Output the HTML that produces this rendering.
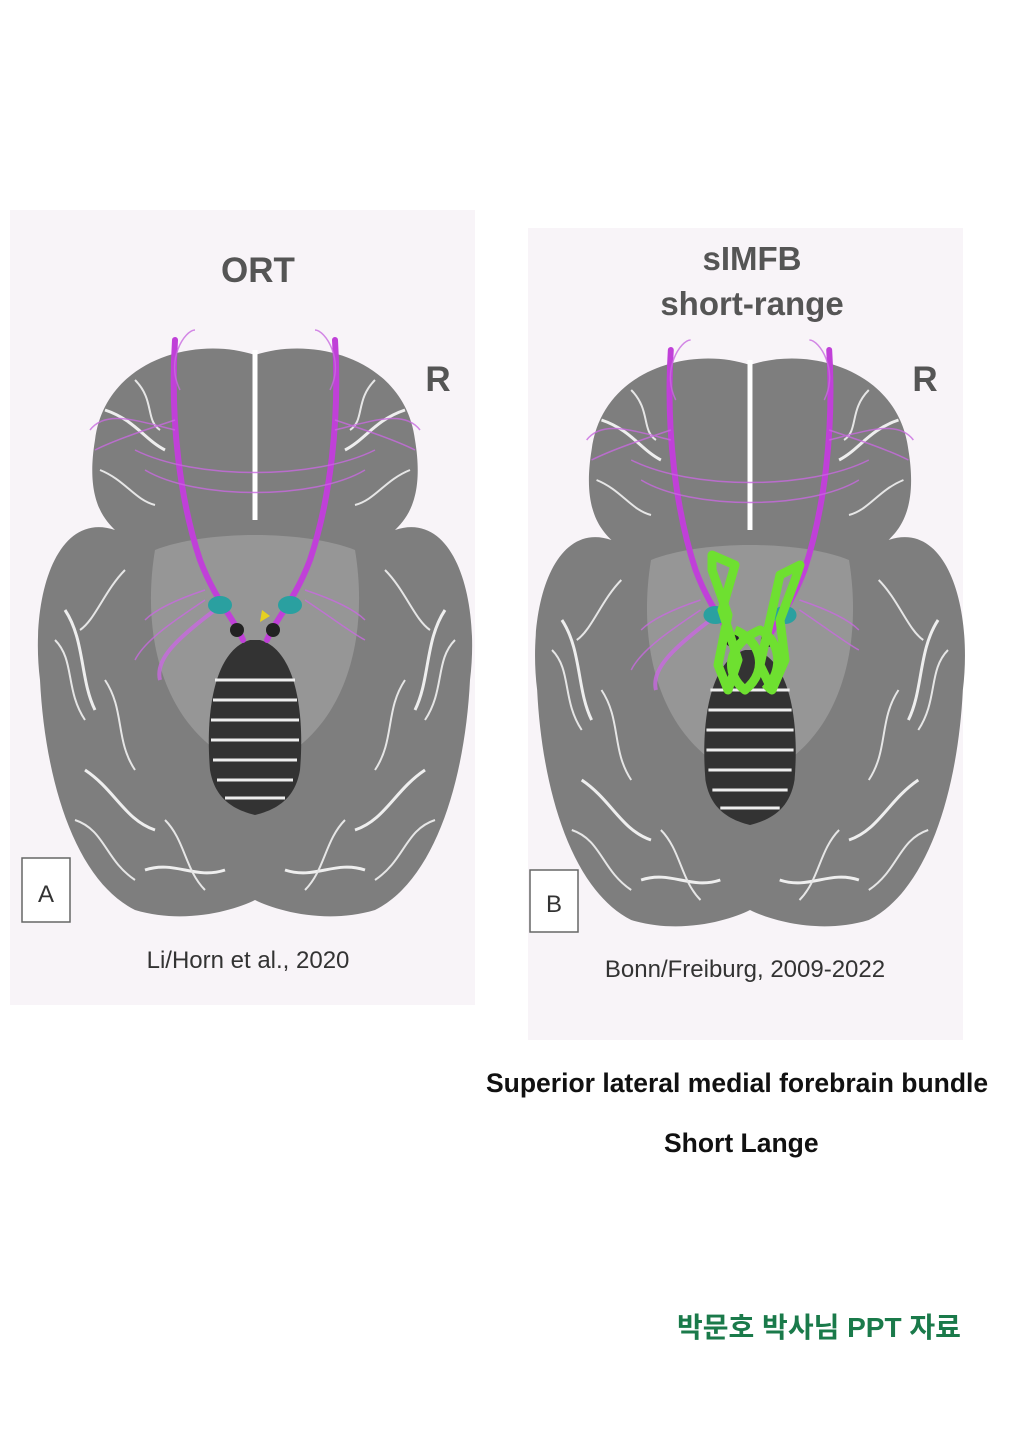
<!DOCTYPE html>
<html><head><meta charset="utf-8"><style>
body{margin:0;background:#fff;width:1019px;height:1440px;overflow:hidden;position:relative;font-family:"Liberation Sans","Noto Sans CJK KR",sans-serif}
svg{position:absolute;left:0;top:0}
.cap{position:absolute;font-weight:bold;font-size:26.5px;color:#111;white-space:nowrap;font-family:"Liberation Sans","Noto Sans CJK KR",sans-serif}
</style></head><body>
<svg width="1019" height="1440" viewBox="0 0 1019 1440">
<defs>
<g id="brain">
<path d="M0,-265 C60,-285 150,-260 160,-180 C170,-120 150,-100 140,-90 C200,-110 225,-20 215,60 C210,160 180,260 120,290 C70,305 20,290 0,280 C-20,290 -70,305 -120,290 C-180,260 -210,160 -215,60 C-225,-20 -200,-110 -140,-90 C-150,-100 -170,-120 -160,-180 C-150,-260 -60,-285 0,-265 Z" fill="#7e7e7e"/>
<path d="M-100,-70 C-50,-90 50,-90 100,-70 C115,20 90,120 0,150 C-90,120 -115,20 -100,-70Z" fill="#969696"/>
<path d="M0,-270 L0,-100" stroke="#fff" stroke-width="5"/>
<path d="M-5,20 C-40,30 -50,90 -45,150 C-40,180 -20,190 0,195 C20,190 40,180 45,150 C50,90 40,30 5,20Z" fill="#333"/>
<g stroke="#eee" stroke-width="3" fill="none">
<path d="M-40,60 L40,60 M-42,80 L42,80 M-44,100 L44,100 M-44,120 L44,120 M-42,140 L42,140 M-38,160 L38,160 M-30,178 L30,178"/>
<path d="M-190,-10 C-170,20 -175,60 -160,90 M190,-10 C170,20 175,60 160,90 M-150,-210 C-120,-200 -110,-180 -90,-170 M150,-210 C120,-200 110,-180 90,-170 M-170,150 C-140,170 -130,200 -100,210 M170,150 C140,170 130,200 100,210 M-110,250 C-80,240 -60,260 -30,250 M110,250 C80,240 60,260 30,250"/>
</g>
<g stroke="#e6e6e6" stroke-width="2" fill="none">
<path d="M-200,20 C-180,40 -190,70 -170,100 M200,20 C180,40 190,70 170,100 M-150,60 C-130,90 -140,120 -120,150 M150,60 C130,90 140,120 120,150 M-120,-240 C-100,-220 -110,-200 -95,-190 M120,-240 C100,-220 110,-200 95,-190 M-155,-150 C-130,-140 -120,-120 -100,-115 M155,-150 C130,-140 120,-120 100,-115 M-180,200 C-150,210 -150,240 -120,260 M180,200 C150,210 150,240 120,260 M-90,200 C-70,220 -70,250 -50,270 M90,200 C70,220 70,250 50,270 M-130,-50 C-150,-30 -160,0 -175,10 M130,-50 C150,-30 160,0 175,10"/>
</g>
<g stroke="#c040d8" stroke-width="6" fill="none" stroke-linecap="round">
<path d="M-80,-280 C-85,-200 -75,-120 -55,-60 C-40,-20 -20,0 -12,20"/>
<path d="M80,-280 C85,-200 75,-120 55,-60 C40,-20 20,0 12,20"/>
</g>
<g stroke="#c86ae0" stroke-width="1.5" fill="none" opacity="0.8">
<path d="M-80,-200 C-110,-190 -140,-180 -160,-170 M-80,-190 C-120,-200 -150,-210 -165,-190 M-75,-230 C-90,-260 -70,-290 -60,-290 M80,-200 C110,-190 140,-180 160,-170 M80,-190 C120,-200 150,-210 165,-190 M75,-230 C90,-260 70,-290 60,-290"/>
<path d="M-120,-170 C-60,-140 60,-140 120,-170 M-110,-150 C-60,-120 60,-120 110,-150"/>
<path d="M-50,-30 C-80,-20 -100,-10 -110,0 M-50,-20 C-80,0 -110,20 -120,40 M50,-30 C80,-20 100,-10 110,0 M50,-20 C80,0 100,15 110,20"/>
<path d="M-40,-10 C-80,20 -100,40 -95,60" stroke-width="4"/>
</g>
<ellipse cx="-35" cy="-15" rx="12" ry="9" fill="#2aa0a0"/>
<ellipse cx="35" cy="-15" rx="12" ry="9" fill="#2aa0a0"/>
<circle cx="-18" cy="10" r="7" fill="#222"/><circle cx="18" cy="10" r="7" fill="#222"/>
</g>
</defs>
<rect x="10" y="210" width="465" height="795" fill="#f8f4f8"/>
<rect x="528" y="228" width="435" height="812" fill="#f8f4f8"/>
<use href="#brain" transform="translate(255,620)"/>
<use href="#brain" transform="translate(750,630) scale(0.99,1.0)"/>
<path d="M262,610 l8,6 l-10,6z" fill="#e6d020"/>
<g stroke="#6ee030" stroke-width="9" fill="none" stroke-linejoin="round">
<path d="M712,555 L735,565 L722,610 L738,660 L728,690 L718,665 L728,615 L712,570Z"/>
<path d="M800,565 L780,575 L770,620 L760,665 L772,690 L785,660 L780,620 L795,580Z"/>
<path d="M735,630 C760,640 770,670 745,690 C725,675 725,645 760,630 C780,640 785,670 765,690"/>
</g>
<g font-family="Liberation Sans,sans-serif" fill="#555" text-anchor="middle" font-weight="bold">
<text x="258" y="282" font-size="35">ORT</text>
<text x="438" y="391" font-size="35">R</text>
<text x="752" y="270" font-size="33">sIMFB</text>
<text x="752" y="315" font-size="33">short-range</text>
<text x="925" y="391" font-size="35">R</text>
</g>
<g font-family="Liberation Sans,sans-serif" fill="#333" text-anchor="middle">
<text x="248" y="968" font-size="24">Li/Horn et al., 2020</text>
<text x="745" y="977" font-size="24">Bonn/Freiburg, 2009-2022</text>
</g>
<rect x="22" y="858" width="48" height="64" fill="#fff" stroke="#666" stroke-width="1.5"/>
<text x="46" y="902" font-size="24" fill="#333" text-anchor="middle" font-family="Liberation Sans,sans-serif">A</text>
<rect x="530" y="870" width="48" height="62" fill="#fff" stroke="#666" stroke-width="1.5"/>
<text x="554" y="912" font-size="24" fill="#333" text-anchor="middle" font-family="Liberation Sans,sans-serif">B</text>
</svg>
<div class="cap" style="left:486px;top:1068px">Superior lateral medial forebrain bundle</div>
<div class="cap" style="left:664px;top:1128px">Short Lange</div>
<div class="cap" style="left:677px;top:1306px;color:#1a7a4a;font-size:28px">박문호 박사님 PPT 자료</div>
</body></html>
